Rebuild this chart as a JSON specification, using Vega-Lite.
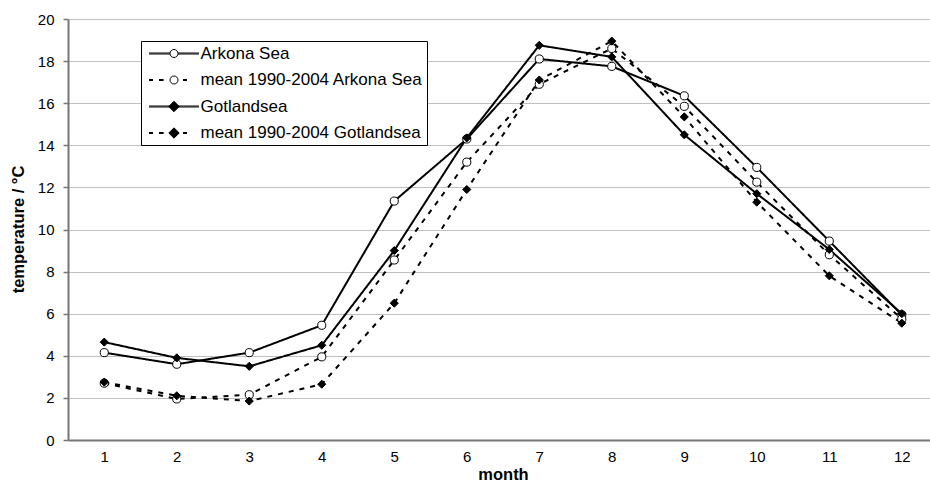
{
  "$schema": "https://vega.github.io/schema/vega-lite/v6.json",
  "width": 862,
  "height": 421,
  "autosize": "none",
  "padding": {"left": 68, "top": 19, "right": 0, "bottom": 42},
  "background": "white",
  "config": {"font": "Liberation Sans", "view": {"stroke": null}},
  "data": {
    "values": [
      {"series": "Arkona Sea", "month": 1, "temp": 4.15},
      {"series": "Arkona Sea", "month": 2, "temp": 3.6},
      {"series": "Arkona Sea", "month": 3, "temp": 4.15},
      {"series": "Arkona Sea", "month": 4, "temp": 5.45},
      {"series": "Arkona Sea", "month": 5, "temp": 11.35},
      {"series": "Arkona Sea", "month": 6, "temp": 14.3},
      {"series": "Arkona Sea", "month": 7, "temp": 18.1},
      {"series": "Arkona Sea", "month": 8, "temp": 17.75},
      {"series": "Arkona Sea", "month": 9, "temp": 16.35},
      {"series": "Arkona Sea", "month": 10, "temp": 12.95},
      {"series": "Arkona Sea", "month": 11, "temp": 9.45},
      {"series": "Arkona Sea", "month": 12, "temp": 5.95},
      {"series": "mean 1990-2004 Arkona Sea", "month": 1, "temp": 2.7},
      {"series": "mean 1990-2004 Arkona Sea", "month": 2, "temp": 1.95},
      {"series": "mean 1990-2004 Arkona Sea", "month": 3, "temp": 2.15},
      {"series": "mean 1990-2004 Arkona Sea", "month": 4, "temp": 3.95},
      {"series": "mean 1990-2004 Arkona Sea", "month": 5, "temp": 8.55},
      {"series": "mean 1990-2004 Arkona Sea", "month": 6, "temp": 13.2},
      {"series": "mean 1990-2004 Arkona Sea", "month": 7, "temp": 16.9},
      {"series": "mean 1990-2004 Arkona Sea", "month": 8, "temp": 18.6},
      {"series": "mean 1990-2004 Arkona Sea", "month": 9, "temp": 15.85},
      {"series": "mean 1990-2004 Arkona Sea", "month": 10, "temp": 12.25},
      {"series": "mean 1990-2004 Arkona Sea", "month": 11, "temp": 8.8},
      {"series": "mean 1990-2004 Arkona Sea", "month": 12, "temp": 5.75},
      {"series": "Gotlandsea", "month": 1, "temp": 4.65},
      {"series": "Gotlandsea", "month": 2, "temp": 3.9},
      {"series": "Gotlandsea", "month": 3, "temp": 3.5},
      {"series": "Gotlandsea", "month": 4, "temp": 4.5},
      {"series": "Gotlandsea", "month": 5, "temp": 9.0},
      {"series": "Gotlandsea", "month": 6, "temp": 14.35},
      {"series": "Gotlandsea", "month": 7, "temp": 18.75},
      {"series": "Gotlandsea", "month": 8, "temp": 18.2},
      {"series": "Gotlandsea", "month": 9, "temp": 14.5},
      {"series": "Gotlandsea", "month": 10, "temp": 11.7},
      {"series": "Gotlandsea", "month": 11, "temp": 9.05},
      {"series": "Gotlandsea", "month": 12, "temp": 6.0},
      {"series": "mean 1990-2004 Gotlandsea", "month": 1, "temp": 2.75},
      {"series": "mean 1990-2004 Gotlandsea", "month": 2, "temp": 2.1},
      {"series": "mean 1990-2004 Gotlandsea", "month": 3, "temp": 1.85},
      {"series": "mean 1990-2004 Gotlandsea", "month": 4, "temp": 2.65},
      {"series": "mean 1990-2004 Gotlandsea", "month": 5, "temp": 6.5},
      {"series": "mean 1990-2004 Gotlandsea", "month": 6, "temp": 11.9},
      {"series": "mean 1990-2004 Gotlandsea", "month": 7, "temp": 17.1},
      {"series": "mean 1990-2004 Gotlandsea", "month": 8, "temp": 18.95},
      {"series": "mean 1990-2004 Gotlandsea", "month": 9, "temp": 15.35},
      {"series": "mean 1990-2004 Gotlandsea", "month": 10, "temp": 11.3},
      {"series": "mean 1990-2004 Gotlandsea", "month": 11, "temp": 7.8},
      {"series": "mean 1990-2004 Gotlandsea", "month": 12, "temp": 5.55}
    ]
  },
  "layer": [
    {
      "mark": {"type": "line", "stroke": "black", "strokeWidth": 2},
      "encoding": {
        "x": {
          "field": "month", "type": "quantitative",
          "scale": {"domain": [0.5, 12.389], "nice": false, "zero": false},
          "axis": {
            "values": [1, 1.5, 2, 2.5, 3, 3.5, 4, 4.5, 5, 5.5, 6, 6.5, 7, 7.5, 8, 8.5, 9, 9.5, 10, 10.5, 11, 11.5, 12],
            "title": "month",
            "titleFontWeight": "bold",
            "titleFontSize": 16.5,
            "titleColor": "black",
            "titleX": 435,
            "titleY": 39,
            "titleBaseline": "alphabetic",
            "titleAlign": "center",
            "labelExpr": "datum.value % 1 === 0 ? '' + datum.value : ''",
            "labelFontSize": 15,
            "labelColor": "black",
            "labelPadding": 4,
            "labelOverlap": false,
            "labelFlush": false,
            "tickSize": 5,
            "tickColor": "#777777",
            "tickWidth": 1.5,
            "tickOpacity": {"condition": {"test": "datum.value % 1 !== 0", "value": 1}, "value": 0},
            "grid": true,
            "gridColor": "#c0c0c0",
            "gridWidth": 1,
            "gridOpacity": {"condition": {"test": "datum.value % 1 !== 0", "value": 1}, "value": 0},
            "domainColor": "#777777",
            "domainWidth": 2
          }
        },
        "y": {
          "field": "temp", "type": "quantitative",
          "scale": {"domain": [0, 20], "nice": false},
          "axis": {
            "values": [0, 2, 4, 6, 8, 10, 12, 14, 16, 18, 20],
            "format": "d",
            "title": "temperature / °C",
            "titleFontWeight": "bold",
            "titleFontSize": 16.5,
            "titleColor": "black",
            "titleX": -50,
            "titleY": 210,
            "titleAngle": 270,
            "titleAlign": "center",
            "titleBaseline": "middle",
            "labelFontSize": 15,
            "labelColor": "black",
            "labelPadding": 9,
            "tickSize": 5,
            "tickColor": "#777777",
            "tickWidth": 1.5,
            "grid": true,
            "gridColor": "#c0c0c0",
            "gridWidth": 1,
            "domainColor": "#777777",
            "domainWidth": 2
          }
        },
        "strokeDash": {
          "field": "series", "type": "nominal",
          "scale": {
            "domain": ["Arkona Sea", "mean 1990-2004 Arkona Sea", "Gotlandsea", "mean 1990-2004 Gotlandsea"],
            "range": [[1, 0], [5, 6], [1, 0], [5, 6]]
          },
          "legend": null
        }
      }
    },
    {
      "mark": {"type": "point", "filled": true, "stroke": "black", "strokeWidth": 1, "opacity": 1},
      "encoding": {
        "x": {"field": "month", "type": "quantitative"},
        "y": {"field": "temp", "type": "quantitative"},
        "shape": {
          "field": "series", "type": "nominal",
          "scale": {
            "domain": ["Arkona Sea", "mean 1990-2004 Arkona Sea", "Gotlandsea", "mean 1990-2004 Gotlandsea"],
            "range": ["circle", "circle", "diamond", "diamond"]
          },
          "legend": null
        },
        "fill": {
          "field": "series", "type": "nominal",
          "scale": {
            "domain": ["Arkona Sea", "mean 1990-2004 Arkona Sea", "Gotlandsea", "mean 1990-2004 Gotlandsea"],
            "range": ["white", "white", "black", "black"]
          },
          "legend": null
        },
        "size": {
          "field": "series", "type": "ordinal",
          "scale": {
            "domain": ["Arkona Sea", "mean 1990-2004 Arkona Sea", "Gotlandsea", "mean 1990-2004 Gotlandsea"],
            "range": [66, 66, 95, 95]
          },
          "legend": null
        }
      }
    },
    {
      "mark": {"type": "point", "filled": true, "stroke": "black", "strokeWidth": 1, "opacity": 1, "size": 0},
      "encoding": {
        "x": {"field": "month", "type": "quantitative"},
        "y": {"field": "temp", "type": "quantitative"},
        "shape": {
          "field": "series", "type": "nominal",
          "scale": {
            "domain": ["Arkona Sea", "mean 1990-2004 Arkona Sea", "Gotlandsea", "mean 1990-2004 Gotlandsea"],
            "range": [
              "M-6.25,-0.125H-1M-6.25,0.125H-1M1,-0.125H6.25M1,0.125H6.25M-1,0A1 1 0 1 1 1,0A1 1 0 1 1 -1,0Z",
              "M-6.25,-0.125H-5.25M-6.25,0.125H-5.25M-3.75,-0.125H-2.6M-3.75,0.125H-2.6M2.25,-0.125H3.25M2.25,0.125H3.25M-1,0A1 1 0 1 1 1,0A1 1 0 1 1 -1,0Z",
              "M-6.25,-0.125H6.25M-6.25,0.125H6.25M0,-1.3L1.3,0L0,1.3L-1.3,0Z",
              "M-6.25,-0.125H-5.25M-6.25,0.125H-5.25M-3.75,-0.125H-2.6M-3.75,0.125H-2.6M2.25,-0.125H3.25M2.25,0.125H3.25M0,-1.3L1.3,0L0,1.3L-1.3,0Z"
            ]
          },
          "legend": {
            "orient": "none",
            "legendX": 73,
            "legendY": 22,
            "title": null,
            "strokeColor": "black",
            "fillColor": "white",
            "padding": 4,
            "symbolSize": 64,
            "symbolStrokeWidth": 1,
            "symbolOffset": 20.5,
            "labelOffset": 18,
            "labelFontSize": 17,
            "labelFont": "Liberation Sans",
            "labelColor": "black",
            "labelLimit": 400,
            "rowPadding": 8.5
          }
        },
        "fill": {
          "field": "series", "type": "nominal",
          "scale": {
            "domain": ["Arkona Sea", "mean 1990-2004 Arkona Sea", "Gotlandsea", "mean 1990-2004 Gotlandsea"],
            "range": ["white", "white", "black", "black"]
          }
        }
      }
    }
  ],
  "resolve": {"scale": {"shape": "independent", "fill": "independent"}}
}
